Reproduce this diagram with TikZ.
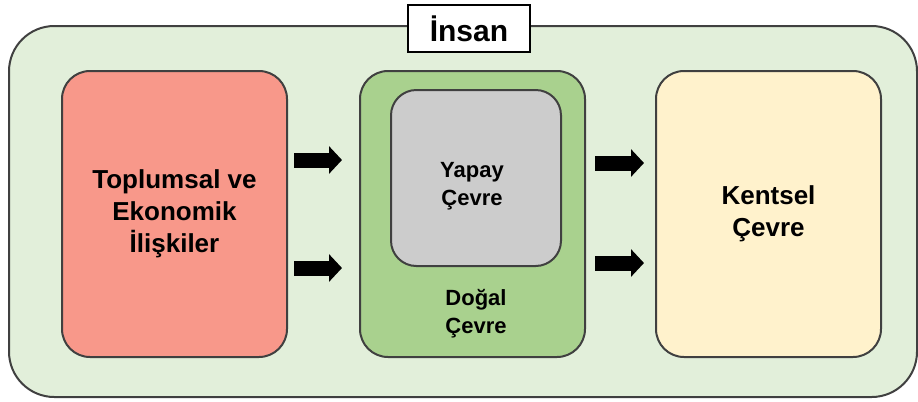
\documentclass[tikz,border=0pt]{standalone}
\usepackage{fontspec}
\setmainfont{Liberation Sans}
\usepackage{tikz}
\usetikzlibrary{calc}
\usetikzlibrary{arrows.meta}
\usetikzlibrary{positioning}
\definecolor{edgegray}{RGB}{64, 64, 64}
\definecolor{mintbg}{RGB}{226, 239, 218}
\definecolor{salmon}{RGB}{248, 152, 138}
\definecolor{leafgreen}{RGB}{169, 209, 142}
\definecolor{stonegray}{RGB}{204, 204, 204}
\definecolor{cream}{RGB}{255, 242, 204}
\tikzset{
    panel/.style   = {draw=edgegray, line width=1.5pt, rounded corners=21pt, align=center,
                      minimum width=168.75pt, minimum height=214.5pt, inner sep=0pt},
    bigtxt/.style  = {font=\fontsize{19.5}{24}\selectfont\bfseries, align=center},
    smalltxt/.style= {font=\fontsize{16.5}{21}\selectfont\bfseries, align=center},
    blockarrow/.style = {line width=11.25pt, -{Triangle[length=9.75pt, width=20.25pt]}}
}

\begin{document}
\begin{tikzpicture}[x=0.75pt, y=-0.75pt]
    \useasboundingbox (0,0) rectangle (918,401);
    % frame for the whole scheme
    \node[draw=edgegray, fill=mintbg, line width=1.5pt, rounded corners=34pt,
          minimum width=681pt, minimum height=278.25pt] (insanbox) at (463,211.5) {};
    \node[draw=black, fill=white, line width=1.5pt, minimum width=91.5pt, minimum height=35pt,
          font=\fontsize{22.5}{27}\selectfont\bfseries] (insan) at (469,28.5) {İnsan};

    \node[panel, fill=salmon,    bigtxt] (iliski)  at (174.5,214) {Toplumsal ve\\Ekonomik\\İlişkiler};
    \node[panel, fill=leafgreen]         (dogal)   at (472.5,214) {};
    \node[panel, fill=stonegray, minimum width=127.5pt, minimum height=132pt, rounded corners=19pt,
          label={[smalltxt, xshift=-3pt, yshift=-6pt]center:Yapay\\Çevre}] (yapay) at (476,178) {};
    \node[smalltxt, below=13pt of yapay.south, anchor=north] (dogaltxt) {Doğal\\Çevre};
    \node[panel, fill=cream,     bigtxt] (kentsel) at (768.5,214) {Kentsel\\Çevre};

    \draw[blockarrow] ($(iliski.east)+(6,-54)$) -- ($(dogal.west)+(-17,-54)$);
    \draw[blockarrow] ($(iliski.east)+(6,54)$)  -- ($(dogal.west)+(-17,54)$);
    \draw[blockarrow] ($(dogal.east)+(9,-51)$)  -- ($(kentsel.west)+(-11,-51)$);
    \draw[blockarrow] ($(dogal.east)+(9,49)$)   -- ($(kentsel.west)+(-11,49)$);
\end{tikzpicture}
\end{document}
